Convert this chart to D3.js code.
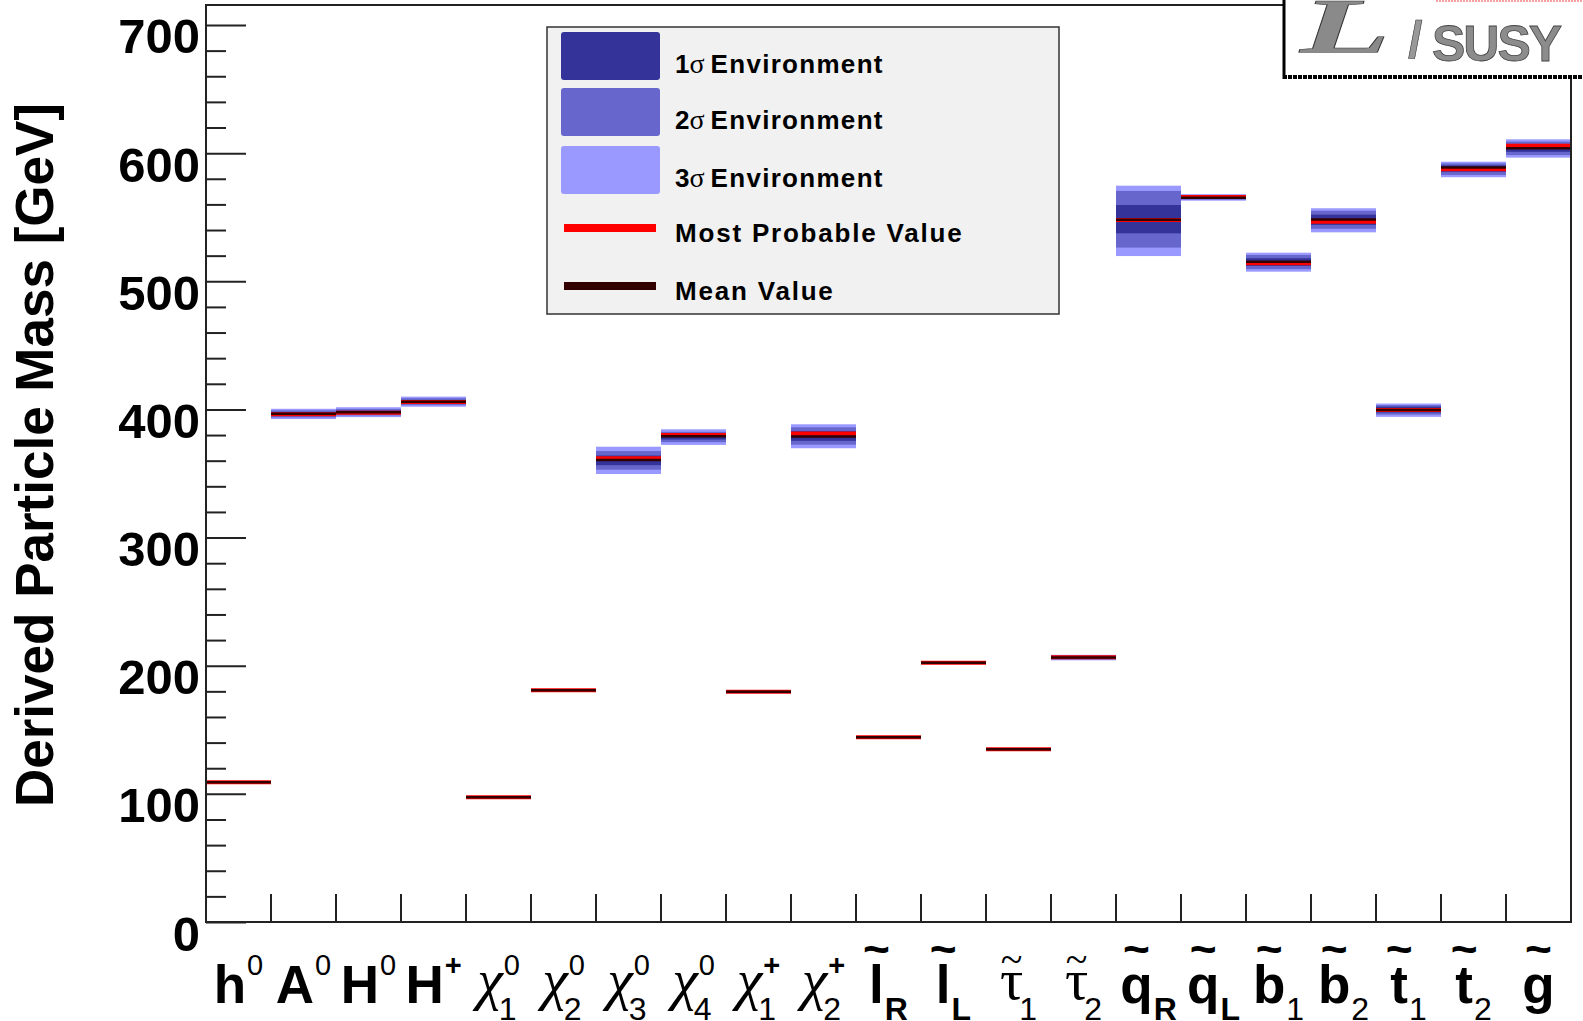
<!DOCTYPE html>
<html>
<head>
<meta charset="utf-8">
<script src="https://cdn.jsdelivr.net/npm/d3@7"></script>
<style>
  html, body { margin: 0; padding: 0; background: #fff; }
  svg { display: block; }
  .sans { font-family: "Liberation Sans", Arial, Helvetica, sans-serif; }
  .serif { font-family: "Liberation Serif", "Times New Roman", serif; }
</style>
</head>
<body>
<svg id="chart" width="1583" height="1021"></svg>
<script>
// ---- particle categories and their axis labels ----
const categories = ["h0","A0","H0","Hp","N1","N2","N3","N4","C1","C2",
                    "lR","lL","tau1","tau2","qR","qL","b1","b2","t1","t2","g"];
const labelMain  = ["h","A","H","H","χ","χ","χ","χ","χ","χ",
                    "l","l","τ","τ","q","q","b","b","t","t","g"];
const labelSup   = ["0","0","0","+","0","0","0","0","+","+",
                    "","","","","","","","","","",""];
const labelSub   = ["","","","","1","2","3","4","1","2",
                    "R","L","1","2","R","L","1","2","1","2",""];
const labelTilde = [0,0,0,0,0,0,0,0,0,0, 1,1,2,2,1,1,1,1,1,1,1]; // 1 = bold tilde, 2 = thin tilde

// ---- derived masses [GeV] ----
const mostProbable = [109.0, 396.2, 397.5, 405.8, 97.3, 180.8, 361.9, 380.1, 179.7, 381.3,
                      144.1, 202.4, 134.8, 206.6, 547.8, 565.7, 514.0, 546.5, 399.6, 587.4, 605.8];
const meanValue    = [109.0, 396.6, 397.8, 406.0, 97.3, 180.8, 360.5, 379.0, 179.7, 378.8,
                      144.1, 202.4, 134.8, 206.5, 548.0, 565.1, 515.3, 548.3, 399.6, 588.7, 603.8];

// ---- confidence environments [low, high] ----
const sigma3 = [[108.6,109.4],[392.5,400.5],[394.0,401.7],[402.1,410.0],[96.9,97.7],[180.4,181.2],
                [349.6,370.9],[372.3,384.5],[178.6,180.2],[369.7,388.4],[143.7,144.5],[202.0,202.8],
                [133.8,135.2],[204.2,208.5],[519.7,574.6],[562.9,568.0],[507.5,522.3],[538.2,557.0],
                [394.2,404.6],[581.2,593.3],[596.5,610.8]];
const sigma2 = [[108.8,109.2],[393.8,399.2],[395.3,400.4],[403.4,408.7],[97.0,97.6],[180.5,181.1],
                [353.0,367.5],[374.5,382.5],[178.9,180.0],[372.5,386.0],[143.8,144.4],[202.1,202.7],
                [134.1,135.0],[205.0,208.0],[526.3,570.5],[563.7,567.2],[509.5,520.5],[541.0,555.0],
                [396.0,403.3],[583.0,592.0],[598.5,609.0]];
const sigma1 = [[108.9,109.1],[395.2,397.8],[396.5,399.1],[404.7,407.4],[97.1,97.5],[180.6,181.0],
                [356.5,364.0],[376.5,380.5],[179.2,179.9],[375.5,383.0],[143.9,144.3],[202.2,202.6],
                [134.3,134.9],[205.8,207.3],[537.4,559.5],[564.6,566.4],[512.0,518.0],[544.0,552.0],
                [397.6,402.2],[585.5,590.5],[601.0,607.0]];

// ---- axis ticks and legend ----
const majorTicks = [0, 100, 200, 300, 400, 500, 600, 700];
const legendBands = [
  { sym: "1", text: "Environment", color: "#333399" },
  { sym: "2", text: "Environment", color: "#6666cc" },
  { sym: "3", text: "Environment", color: "#9999ff" }
];
const legendLines = [
  { text: "Most Probable Value", color: "#ff0000" },
  { text: "Mean Value", color: "#330000" }
];

const svg = d3.select("#chart");
const frame = { left: 206, right: 1571, top: 5, bottom: 922 };

const x = d3.scaleBand().domain(categories).range([frame.left, frame.right]).padding(0);
const y = d3.scaleLinear().domain([0, 715.6]).range([frame.bottom, frame.top]);

// ---- bands ----
const plot = svg.append("g");
const bandLayers = [
  { data: sigma3, color: "#9999ff" },
  { data: sigma2, color: "#6666cc" },
  { data: sigma1, color: "#333399" }
];
bandLayers.forEach(layer => {
  plot.append("g").selectAll("rect")
    .data(layer.data)
    .join("rect")
    .attr("x", (d, i) => x(categories[i]))
    .attr("width", x.bandwidth())
    .attr("y", d => y(d[1]))
    .attr("height", d => Math.max(0, y(d[0]) - y(d[1])))
    .attr("fill", layer.color);
});

// most probable (red) and mean (dark) markers
plot.append("g").selectAll("line")
  .data(mostProbable)
  .join("line")
  .attr("x1", (d, i) => x(categories[i]))
  .attr("x2", (d, i) => x(categories[i]) + x.bandwidth())
  .attr("y1", d => y(d)).attr("y2", d => y(d))
  .attr("stroke", "#ff0000").attr("stroke-width", 4);

plot.append("g").selectAll("line")
  .data(meanValue)
  .join("line")
  .attr("x1", (d, i) => x(categories[i]))
  .attr("x2", (d, i) => x(categories[i]) + x.bandwidth())
  .attr("y1", d => y(d)).attr("y2", d => y(d))
  .attr("stroke", "#330000").attr("stroke-width", 2.5);

// ---- frame ----
svg.append("rect")
  .attr("x", frame.left).attr("y", frame.top)
  .attr("width", frame.right - frame.left).attr("height", frame.bottom - frame.top)
  .attr("fill", "none").attr("stroke", "#222").attr("stroke-width", 2);

// ---- y axis (ticks point into the frame) ----
const yMajor = d3.axisLeft(y).tickValues(majorTicks).tickSize(-40).tickPadding(6).tickFormat(d3.format("d"));
const yMinor = d3.axisLeft(y)
  .tickValues(d3.range(0, 715, 20).filter(v => v % 100 !== 0))
  .tickSize(-20).tickFormat("");

const gMinor = svg.append("g").attr("transform", `translate(${frame.left},0)`).call(yMinor);
const gMajor = svg.append("g").attr("transform", `translate(${frame.left},0)`).call(yMajor);
[gMinor, gMajor].forEach(g => {
  g.select(".domain").remove();
  g.selectAll(".tick line").attr("stroke", "#222").attr("stroke-width", 2);
});
gMajor.selectAll(".tick text")
  .attr("class", "sans")
  .attr("font-size", 49).attr("font-weight", "bold").attr("fill", "#000")
  .attr("dy", 28);

// y title
svg.append("text")
  .attr("class", "sans")
  .attr("transform", `translate(53,455) rotate(-90)`)
  .attr("text-anchor", "middle")
  .attr("font-size", 53).attr("font-weight", "bold").attr("fill", "#000")
  .text("Derived Particle Mass [GeV]");

// ---- x axis: bin boundary ticks ----
svg.append("g").selectAll("line")
  .data(categories.slice(1))
  .join("line")
  .attr("x1", d => x(d)).attr("x2", d => x(d))
  .attr("y1", frame.bottom).attr("y2", frame.bottom - 28)
  .attr("stroke", "#222").attr("stroke-width", 2);

// particle labels
const isGreek = ch => ch === "χ" || ch === "τ";
const labels = svg.append("g");
categories.forEach((c, i) => {
  const g = labels.append("g");
  const greek = isGreek(labelMain[i]);
  const main = g.append("text")
    .attr("class", greek ? "serif" : "sans")
    .attr("font-size", greek ? 58 : 53)
    .attr("font-weight", greek ? "normal" : "bold")
    .attr("font-style", labelMain[i] === "χ" ? "italic" : "normal")
    .attr("x", 0).attr("y", greek ? 999 : 1003)
    .text(labelMain[i]);
  const w = main.node().getComputedTextLength();
  let extra = 0;
  if (labelSup[i]) {
    const s = g.append("text")
      .attr("class", "sans")
      .attr("font-size", 29)
      .attr("font-weight", labelSup[i] === "+" ? "bold" : "normal")
      .attr("x", w + 1).attr("y", 975)
      .text(labelSup[i]);
    extra = Math.max(extra, s.node().getComputedTextLength() + 1);
  }
  if (labelSub[i]) {
    const bold = labelSub[i] === "R" || labelSub[i] === "L";
    const s = g.append("text")
      .attr("class", "sans")
      .attr("font-size", 32)
      .attr("font-weight", bold ? "bold" : "normal")
      .attr("x", w + (greek ? -4 : 1)).attr("y", 1020)
      .text(labelSub[i]);
    extra = Math.max(extra, s.node().getComputedTextLength() + (greek ? -4 : 1));
  }
  if (labelTilde[i]) {
    const thin = labelTilde[i] === 2;
    const t = g.append("text")
      .attr("class", thin ? "serif" : "sans")
      .attr("font-size", thin ? 40 : 46)
      .attr("font-weight", thin ? "normal" : "bold")
      .attr("text-anchor", "middle")
      .attr("x", w / 2).attr("y", 0)
      .text("~");
    const bb = t.node().getBBox();
    const targetCenter = thin ? 959 : 949;
    t.attr("y", targetCenter - (bb.y + bb.height / 2));
  }
  const total = w + extra;
  g.attr("transform", `translate(${x(c) + x.bandwidth() / 2 - total / 2},0)`);
});

// ---- legend ----
const lg = svg.append("g");
lg.append("rect")
  .attr("x", 547).attr("y", 27).attr("width", 512).attr("height", 287)
  .attr("fill", "#f1f1f1").attr("stroke", "#333").attr("stroke-width", 1.5);

const rowY = [73, 129, 187, 242, 300];
legendBands.forEach((b, i) => {
  lg.append("rect")
    .attr("x", 561).attr("y", rowY[i] - 41).attr("width", 99).attr("height", 48)
    .attr("rx", 3).attr("fill", b.color);
  const t = lg.append("text")
    .attr("class", "sans")
    .attr("x", 675).attr("y", rowY[i])
    .attr("font-size", 26).attr("font-weight", "bold").attr("fill", "#000");
  t.append("tspan").text(b.sym);
  t.append("tspan").attr("class", "serif").attr("font-weight", "normal").attr("font-size", 28).text("σ");
  t.append("tspan").attr("dx", 6).attr("letter-spacing", 1.3).text(b.text);
});
legendLines.forEach((l, j) => {
  const i = j + 3;
  lg.append("line")
    .attr("x1", 564).attr("x2", 656)
    .attr("y1", rowY[i] - 14).attr("y2", rowY[i] - 14)
    .attr("stroke", l.color).attr("stroke-width", 8);
  lg.append("text")
    .attr("class", "sans")
    .attr("x", 675).attr("y", rowY[i])
    .attr("font-size", 26).attr("font-weight", "bold").attr("letter-spacing", 1.8).attr("fill", "#000")
    .text(l.text);
});

// ---- logo box in the upper right corner ----
const logo = svg.append("g");
logo.append("rect").attr("x", 1283).attr("y", -2).attr("width", 310).attr("height", 79).attr("fill", "#fff");
logo.append("line").attr("x1", 1436).attr("x2", 1583).attr("y1", 1).attr("y2", 1)
  .attr("stroke", "#f4a0a0").attr("stroke-width", 2).attr("stroke-dasharray", "2,1");
logo.append("text")
  .attr("class", "serif")
  .attr("transform", "translate(1300,52) scale(1.9,1)")
  .attr("font-size", 78).attr("font-style", "italic").attr("font-weight", "bold")
  .attr("fill", "#8a8a8a").attr("stroke", "#333").attr("stroke-width", 0.6)
  .text("L");
logo.append("text")
  .attr("class", "sans")
  .attr("x", 1408).attr("y", 58)
  .attr("font-size", 52).attr("font-weight", "bold").attr("fill", "#999").attr("stroke", "#333").attr("stroke-width", 0.6)
  .text("/");
logo.append("text")
  .attr("class", "sans")
  .attr("x", 1432).attr("y", 61)
  .attr("font-size", 50).attr("font-weight", "bold").attr("letter-spacing", -2)
  .attr("fill", "#8c8c8c").attr("stroke", "#444").attr("stroke-width", 0.8)
  .text("SUSY");
logo.append("line").attr("x1", 1284).attr("x2", 1284).attr("y1", 0).attr("y2", 79)
  .attr("stroke", "#000").attr("stroke-width", 3);
logo.append("line").attr("x1", 1283).attr("x2", 1583).attr("y1", 77).attr("y2", 77)
  .attr("stroke", "#000").attr("stroke-width", 4).attr("stroke-dasharray", "4,1");
</script>
</body>
</html>
